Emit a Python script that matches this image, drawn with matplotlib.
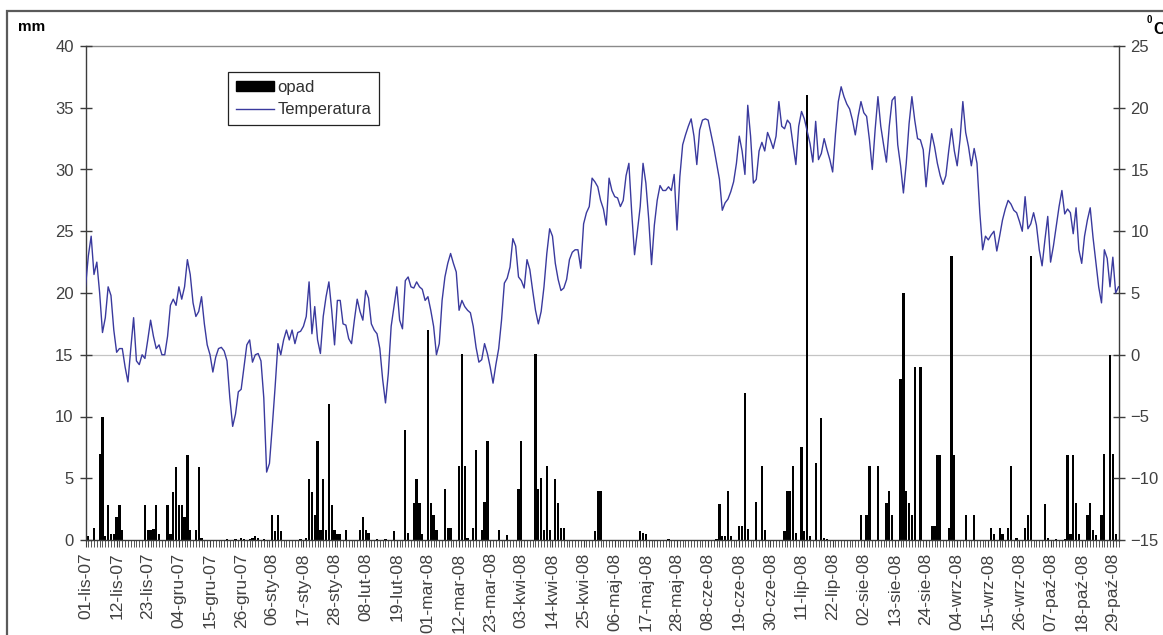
import matplotlib
matplotlib.use('Agg')
import matplotlib.pyplot as plt
from matplotlib.patches import Rectangle, Patch
from matplotlib.lines import Line2D
import numpy as np

plt.rcParams['font.family'] = ['Liberation Sans', 'DejaVu Sans']

# ---------------- data (daily, 01-lis-07 .. 31-paz-08) ----------------
tick_labels = ['01-lis-07', '12-lis-07', '23-lis-07', '04-gru-07', '15-gru-07',
               '26-gru-07', '06-sty-08', '17-sty-08', '28-sty-08', '08-lut-08',
               '19-lut-08', '01-mar-08', '12-mar-08', '23-mar-08', '03-kwi-08',
               '14-kwi-08', '25-kwi-08', '06-maj-08', '17-maj-08', '28-maj-08',
               '08-cze-08', '19-cze-08', '30-cze-08', '11-lip-08', '22-lip-08',
               '02-sie-08', '13-sie-08', '24-sie-08', '04-wrz-08', '15-wrz-08',
               '26-wrz-08', '07-paź-08', '18-paź-08', '29-paź-08']

temp_lis = [5.5, 8.0, 9.6, 6.5, 7.5, 5.0, 1.8, 3.0, 5.5, 4.8, 2.0, 0.2, 0.5, 0.5, -1.0,
            -2.2, 0.5, 3.0, -0.5, -0.8, 0.0, -0.3, 1.2, 2.8, 1.5, 0.5, 0.8, 0.0, 0.0, 1.5]
temp_gru = [4.0, 4.5, 4.0, 5.5, 4.5, 5.5, 7.7, 6.5, 4.2, 3.1, 3.5, 4.7, 2.5, 0.8, 0.0,
            -1.4, -0.2, 0.5, 0.6, 0.3, -0.5, -3.5, -5.8, -4.8, -3.0, -2.8, -1.0, 0.8, 1.2,
            -0.6, 0.0]
temp_sty = [0.1, -0.5, -3.5, -9.5, -8.8, -5.8, -2.6, 0.9, 0.0, 1.2, 2.0, 1.2, 2.0, 0.9, 1.8,
            1.9, 2.3, 3.1, 5.9, 1.7, 3.9, 1.2, 0.1, 3.1, 4.7, 5.9, 3.6, 0.8, 4.4, 4.4, 2.5]
temp_lut = [2.4, 1.3, 0.9, 2.8, 4.5, 3.5, 2.8, 5.2, 4.6, 2.5, 2.0, 1.7, 0.5, -2.0, -3.9,
            -1.5, 2.3, 3.9, 5.5, 2.8, 2.1, 6.0, 6.3, 5.5, 5.4, 5.9, 5.5, 5.3, 4.4]
temp_mar = [4.7, 3.6, 2.3, 0.0, 0.9, 4.4, 6.3, 7.4, 8.2, 7.4, 6.7, 3.6, 4.4, 3.9, 3.6,
            3.4, 2.3, 0.6, -0.6, -0.4, 0.9, 0.1, -1.0, -2.3, -0.8, 0.5, 2.8, 5.8, 6.2, 7.1, 9.4]
temp_kwi = [8.8, 6.3, 6.0, 5.4, 7.7, 6.9, 5.2, 3.6, 2.5, 3.5, 5.5, 8.2, 10.2, 9.6, 7.4,
            6.1, 5.2, 5.4, 6.1, 7.7, 8.3, 8.5, 8.5, 7.0, 10.6, 11.5, 12.0, 14.3, 14.0, 13.6]
temp_maj = [12.5, 11.8, 10.5, 14.3, 13.3, 12.8, 12.7, 12.0, 12.5, 14.5, 15.5, 11.5, 8.1,
            10.0, 12.0, 15.5, 13.9, 11.0, 7.3, 10.5, 12.5, 13.7, 13.3, 13.3, 13.6, 13.3,
            14.6, 10.1, 14.4, 17.0, 17.8]
temp_cze = [18.5, 19.1, 17.7, 15.4, 18.2, 19.0, 19.1, 19.0, 17.9, 16.8, 15.5, 14.2, 11.7,
            12.3, 12.6, 13.2, 14.0, 15.5, 17.7, 16.5, 14.6, 20.2, 17.7, 13.9, 14.2, 16.5,
            17.2, 16.5, 18.0, 17.4]
temp_lip = [16.7, 17.7, 20.5, 18.5, 18.3, 19.0, 18.7, 17.0, 15.4, 18.5, 19.7, 19.1, 18.1,
            17.1, 15.6, 18.9, 15.8, 16.3, 17.5, 16.6, 15.8, 14.8, 17.9, 20.5, 21.7, 20.9,
            20.3, 19.9, 19.0, 17.8, 19.3]
temp_sie = [20.5, 19.6, 19.3, 17.4, 15.0, 18.2, 20.9, 18.5, 17.0, 15.6, 18.5, 20.6, 20.9,
            17.0, 15.3, 13.1, 15.5, 18.7, 20.9, 19.0, 17.5, 17.4, 16.6, 13.6, 16.0, 17.9,
            16.85, 15.5, 14.5, 13.8, 14.5]
temp_wrz = [16.5, 18.3, 16.5, 15.3, 17.4, 20.5, 18.0, 16.85, 15.3, 16.7, 15.5, 11.5, 8.5,
            9.6, 9.3, 9.7, 10.0, 8.4, 9.6, 10.9, 11.8, 12.5, 12.2, 11.7, 11.5, 10.8, 10.0,
            12.8, 10.2, 10.6]
temp_paz = [11.5, 10.5, 8.5, 7.2, 9.3, 11.2, 7.5, 8.8, 10.4, 12.0, 13.3, 11.4, 11.8, 11.5,
            9.8, 11.9, 8.5, 7.4, 9.6, 10.9, 11.9, 9.5, 7.5, 5.5, 4.2, 8.5, 7.8, 5.5, 7.9,
            5.0, 5.5]

opad_lis = [0.2, 0.3, 0, 1.0, 0, 7.0, 10.0, 0.3, 2.8, 0.5, 0.5, 1.9, 2.8, 0.8, 0, 0, 0, 0,
            0, 0, 0, 2.8, 0.8, 0.8, 0.9, 2.8, 0.5, 0, 0, 2.8]
opad_gru = [0.5, 3.9, 5.9, 2.8, 2.8, 1.9, 6.9, 0.8, 0, 0.8, 5.9, 0.2, 0, 0, 0, 0, 0, 0, 0,
            0, 0.1, 0, 0, 0.1, 0, 0.2, 0.1, 0, 0.1, 0.2, 0.3]
opad_sty = [0.2, 0, 0.1, 0, 0, 2.0, 0.7, 2.0, 0.7, 0, 0, 0, 0, 0, 0, 0.1, 0, 0.2, 4.9, 3.9,
            2.0, 8.0, 0.8, 4.9, 0.8, 11.0, 2.8, 0.8, 0.5, 0.5, 0]
opad_lut = [0.8, 0, 0, 0, 0, 0.8, 1.9, 0.8, 0.6, 0, 0, 0.1, 0, 0, 0.1, 0, 0, 0.7, 0, 0,
            0, 8.9, 0.6, 0, 3.0, 4.9, 3.0, 0.5, 0]
opad_mar = [17.0, 3.0, 2.0, 0.8, 0, 0, 4.1, 1.0, 1.0, 0, 0, 6.0, 15.1, 6.0, 0.2, 0, 1.0,
            7.3, 0, 0.8, 3.1, 8.0, 0, 0, 0, 0.8, 0, 0, 0.4, 0, 0]
opad_kwi = [0, 4.1, 8.0, 0, 0, 0, 0, 15.1, 4.1, 5.0, 0.8, 6.0, 0.8, 0, 4.9, 3.0, 1.0, 1.0,
            0, 0, 0, 0, 0, 0, 0, 0, 0, 0, 0.7, 4.0]
opad_maj = [4.0, 0, 0, 0, 0, 0, 0, 0, 0, 0, 0, 0, 0, 0, 0.7, 0.6, 0.5, 0, 0, 0, 0, 0, 0,
            0, 0.1, 0, 0, 0, 0, 0, 0]
opad_cze = [0, 0, 0, 0, 0, 0, 0, 0, 0, 0, 0.1, 2.9, 0.3, 0.3, 4.0, 0.3, 0, 0, 1.1, 1.1,
            11.9, 0.9, 0, 0, 3.1, 0, 6.0, 0.8, 0, 0]
opad_lip = [0, 0, 0, 0, 0.7, 4.0, 4.0, 6.0, 0.6, 0, 7.5, 0.7, 36.0, 0.3, 0, 6.2, 0, 9.9,
            0.2, 0.1, 0, 0, 0, 0, 0, 0, 0, 0, 0, 0, 0]
opad_sie = [2.0, 0, 2.0, 6.0, 0, 0, 6.0, 0, 0, 3.0, 4.0, 2.0, 0, 0, 13.0, 20.0, 4.0, 3.0,
            2.0, 14.0, 0, 14.0, 0, 0, 0, 1.1, 1.1, 6.9, 6.9, 0, 0]
opad_wrz = [1.0, 23.0, 6.9, 0, 0, 0, 2.0, 0, 0, 2.0, 0, 0, 0, 0, 0, 1.0, 0.5, 0, 1.0, 0.5,
            0, 1.0, 6.0, 0, 0.2, 0, 0, 1.0, 2.0, 23.0]
opad_paz = [0, 0, 0, 0, 2.9, 0.2, 0, 0, 0.1, 0, 0, 0.1, 6.9, 0.5, 6.9, 3.0, 0.5, 0, 0, 2.0,
            3.0, 0.8, 0.4, 0, 2.0, 7.0, 0, 15.0, 7.0, 0.5, 0]

temperatura = (temp_lis + temp_gru + temp_sty + temp_lut + temp_mar + temp_kwi + temp_maj
               + temp_cze + temp_lip + temp_sie + temp_wrz + temp_paz)
opad = (opad_lis + opad_gru + opad_sty + opad_lut + opad_mar + opad_kwi + opad_maj
        + opad_cze + opad_lip + opad_sie + opad_wrz + opad_paz)
days = np.arange(len(temperatura))
label_step = 11

# ---------------- figure ----------------
W, H = 1163, 635
fig = plt.figure(figsize=(W / 100, H / 100), dpi=100)
fig.patch.set_facecolor('white')

# outer chart frame (cut by the image edge on right/bottom)
fig.add_artist(Rectangle((6.5 / W, -0.05), 2.0, 1 - 10.5 / H + 0.05,
                         transform=fig.transFigure, fill=False,
                         ec='#5a5a5a', lw=1.6, clip_on=False))

ax = fig.add_axes([85.5 / W, 1 - 540 / H, (1118.5 - 85.5) / W, (540 - 46) / H])
axis_col = '#3c3c3c'
line_col = '#3a3a9e'

ax.bar(days, opad, width=0.8, color='black', edgecolor='none', zorder=2)
ax.set_xlim(0, len(days) - 1)
ax.set_ylim(0, 40)
ax.set_yticks(np.arange(0, 41, 5))
ax.axhline(15, color='#c4c4c4', lw=0.9, zorder=0)
ax.axhline(40, color='#8a8a8a', lw=1.0, zorder=0, clip_on=False)

ax2 = ax.twinx()
ax2.plot(days, temperatura, color=line_col, lw=1.0, zorder=3)
ax2.set_ylim(-15, 25)
ax2.set_yticks(np.arange(-15, 26, 5))

for a in (ax, ax2):
    a.spines['top'].set_visible(False)
    for s in ('left', 'right', 'bottom'):
        a.spines[s].set_color(axis_col)
        a.spines[s].set_linewidth(1.0)
ax.spines['right'].set_visible(False)
ax2.spines['left'].set_visible(False)
ax2.spines['bottom'].set_visible(False)

ax.tick_params(axis='y', direction='inout', length=9, width=1, colors=axis_col,
               labelsize=12, pad=4, labelcolor='#404040')
ax2.tick_params(axis='y', direction='inout', length=9, width=1, colors=axis_col,
                labelsize=12, pad=4, labelcolor='#404040')

ax.set_xticks(days[::label_step])
ax.set_xticklabels(tick_labels, rotation=90, fontsize=12.5, color='#404040')
ax.set_xticks(days, minor=True)
ax.tick_params(axis='x', which='major', direction='out', length=5, width=0.8,
               colors=axis_col, pad=4, labelcolor='#404040')
ax.tick_params(axis='x', which='minor', direction='out', length=5, width=0.6,
               colors=axis_col)

# axis unit labels
fig.text(18 / W, 1 - 27 / H, 'mm', fontsize=11, fontweight='bold', ha='left',
         va='center', color='black')
fig.text(1147 / W, 1 - 20 / H, '0', fontsize=7, fontweight='bold', ha='left',
         va='center', color='black')
fig.text(1153 / W, 1 - 29 / H, 'C', fontsize=12, fontweight='bold', ha='left',
         va='center', color='black')

handles = [Patch(facecolor='black', edgecolor='black'),
           Line2D([], [], color=line_col, lw=1.0)]
leg = ax2.legend(handles, ['opad', 'Temperatura'], loc='upper left',
                 bbox_to_anchor=(0.138, 0.947), bbox_transform=ax.transAxes,
                 frameon=True, fancybox=False, edgecolor='#222222', framealpha=1,
                 fontsize=12, handlelength=2.3, handleheight=0.55, borderpad=0.45,
                 labelspacing=0.45, handletextpad=0.2, borderaxespad=0)
leg.get_frame().set_linewidth(0.9)
for t in leg.get_texts():
    t.set_color('#303030')

fig.savefig('out.png', dpi=100)
